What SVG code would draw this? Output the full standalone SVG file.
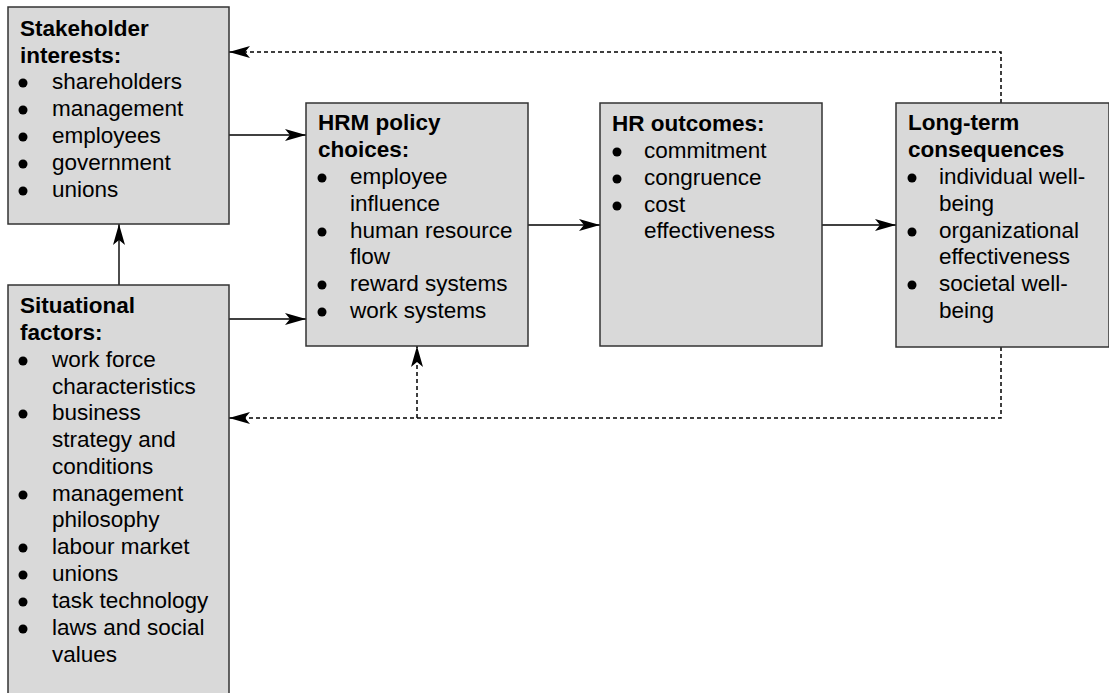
<svg xmlns="http://www.w3.org/2000/svg" width="1109" height="693" viewBox="0 0 1109 693">
<defs>
<style>
.box{fill:#d9d9d9;stroke:#333;stroke-width:1.5}
.h{font-family:"Liberation Sans",Arial,sans-serif;font-size:22.5px;font-weight:bold;fill:#000}
.t{font-family:"Liberation Sans",Arial,sans-serif;font-size:22.5px;fill:#000}
.solid{fill:none;stroke:#000;stroke-width:1.4}
.dash{fill:none;stroke:#000;stroke-width:1.5;stroke-dasharray:4,3}
</style>
<marker id="ah" markerUnits="userSpaceOnUse" markerWidth="22" markerHeight="12" refX="21" refY="6" orient="auto">
<path d="M0,0 L21,6 L0,12 L5,6 Z" fill="#000"/>
</marker>
</defs>
<g id="connectors">
<line class="solid" x1="229" y1="135" x2="306" y2="135" marker-end="url(#ah)"/>
<line class="solid" x1="229" y1="319" x2="306" y2="319" marker-end="url(#ah)"/>
<line class="solid" x1="119" y1="285" x2="119" y2="224" marker-end="url(#ah)"/>
<line class="solid" x1="528" y1="225" x2="600" y2="225" marker-end="url(#ah)"/>
<line class="solid" x1="822" y1="225" x2="896" y2="225" marker-end="url(#ah)"/>
<polyline class="dash" points="1001,103 1001,52 229,52" marker-end="url(#ah)"/>
<polyline class="dash" points="1001,347 1001,418 229,418" marker-end="url(#ah)"/>
<line class="dash" x1="417" y1="418" x2="417" y2="346" marker-end="url(#ah)"/>
</g>
<g id="stakeholder">
<rect class="box" x="8" y="7" width="221" height="217"/>
<text class="h" x="20" y="36">Stakeholder</text>
<text class="h" x="20" y="63">interests:</text>
<g fill="#000"><circle cx="23" cy="83" r="4.5"/><circle cx="23" cy="110" r="4.5"/><circle cx="23" cy="137" r="4.5"/><circle cx="23" cy="164" r="4.5"/><circle cx="23" cy="191" r="4.5"/></g>
<text class="t" x="52" y="89">shareholders</text>
<text class="t" x="52" y="116">management</text>
<text class="t" x="52" y="143">employees</text>
<text class="t" x="52" y="170">government</text>
<text class="t" x="52" y="197">unions</text>
</g>
<g id="situational">
<rect class="box" x="8" y="285" width="221" height="420"/>
<text class="h" x="20" y="313">Situational</text>
<text class="h" x="20" y="340">factors:</text>
<g fill="#000"><circle cx="23" cy="361" r="4.5"/><circle cx="23" cy="414" r="4.5"/><circle cx="23" cy="495" r="4.5"/><circle cx="23" cy="548" r="4.5"/><circle cx="23" cy="575" r="4.5"/><circle cx="23" cy="602" r="4.5"/><circle cx="23" cy="629" r="4.5"/></g>
<text class="t" x="52" y="367">work force</text>
<text class="t" x="52" y="394">characteristics</text>
<text class="t" x="52" y="420">business</text>
<text class="t" x="52" y="447">strategy and</text>
<text class="t" x="52" y="474">conditions</text>
<text class="t" x="52" y="501">management</text>
<text class="t" x="52" y="527">philosophy</text>
<text class="t" x="52" y="554">labour market</text>
<text class="t" x="52" y="581">unions</text>
<text class="t" x="52" y="608">task technology</text>
<text class="t" x="52" y="635">laws and social</text>
<text class="t" x="52" y="662">values</text>
</g>
<g id="hrm">
<rect class="box" x="306" y="103" width="222" height="243"/>
<text class="h" x="318" y="130">HRM policy</text>
<text class="h" x="318" y="157">choices:</text>
<g fill="#000"><circle cx="322" cy="178" r="4.5"/><circle cx="322" cy="232" r="4.5"/><circle cx="322" cy="285" r="4.5"/><circle cx="322" cy="312" r="4.5"/></g>
<text class="t" x="350" y="184">employee</text>
<text class="t" x="350" y="211">influence</text>
<text class="t" x="350" y="238">human resource</text>
<text class="t" x="350" y="264">flow</text>
<text class="t" x="350" y="291">reward systems</text>
<text class="t" x="350" y="318">work systems</text>
</g>
<g id="outcomes">
<rect class="box" x="600" y="103" width="222" height="243"/>
<text class="h" x="612" y="131">HR outcomes:</text>
<g fill="#000"><circle cx="617" cy="152" r="4.5"/><circle cx="617" cy="179" r="4.5"/><circle cx="617" cy="206" r="4.5"/></g>
<text class="t" x="644" y="158">commitment</text>
<text class="t" x="644" y="185">congruence</text>
<text class="t" x="644" y="212">cost</text>
<text class="t" x="644" y="238">effectiveness</text>
</g>
<g id="consequences">
<rect class="box" x="896" y="103" width="213" height="244"/>
<text class="h" x="908" y="130">Long-term</text>
<text class="h" x="908" y="157">consequences</text>
<g fill="#000"><circle cx="912" cy="178" r="4.5"/><circle cx="912" cy="232" r="4.5"/><circle cx="912" cy="285" r="4.5"/></g>
<text class="t" x="939" y="184">individual well-</text>
<text class="t" x="939" y="211">being</text>
<text class="t" x="939" y="238">organizational</text>
<text class="t" x="939" y="264">effectiveness</text>
<text class="t" x="939" y="291">societal well-</text>
<text class="t" x="939" y="318">being</text>
</g>
</svg>
